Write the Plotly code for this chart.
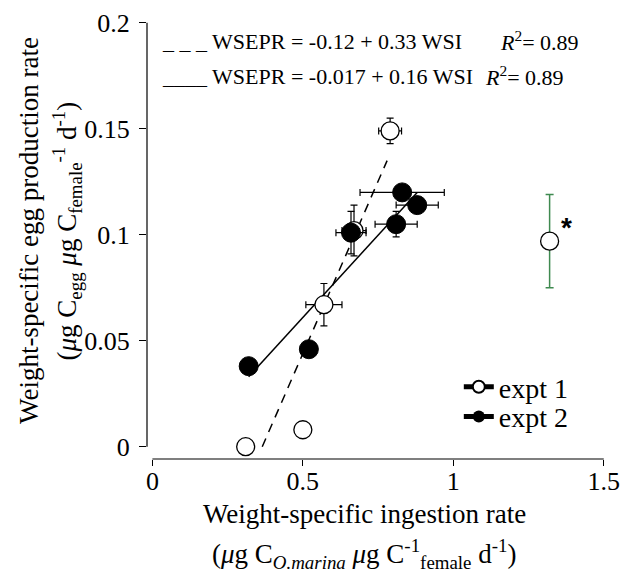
import plotly.graph_objects as go

# ---- data ----
e1_x = [0.31, 0.50, 0.57, 0.67, 0.79]
e1_y = [0.000, 0.008, 0.067, 0.102, 0.149]
e1_xerr = [0.0, 0.0, 0.06, 0.04, 0.038]
e1_yerr = [0.0, 0.0, 0.010, 0.012, 0.006]

e2_x = [0.32, 0.52, 0.66, 0.81, 0.83, 0.88]
e2_y = [0.038, 0.046, 0.101, 0.105, 0.120, 0.114]
e2_xerr = [0.0, 0.0, 0.05, 0.07, 0.14, 0.07]
e2_yerr = [0.0, 0.0, 0.010, 0.006, 0.0, 0.0]

out_x = [1.32]
out_y = [0.097]
out_yerr = [0.022]

dash_x = [0.365, 0.78]
dash_y = [0.0, 0.135]
solid_x = [0.32, 0.88]
solid_y = [0.033, 0.12]

xticks = [0, 0.5, 1, 1.5]
xticklabels = ["0", "0.5", "1", "1.5"]
yticks = [0, 0.05, 0.1, 0.15, 0.2]
yticklabels = ["0", "0.05", "0.1", "0.15", "0.2"]

SERIF = "Liberation Serif"

fig = go.Figure()

fig.add_trace(go.Scatter(x=dash_x, y=dash_y, mode="lines",
                         line=dict(color="black", width=1.5, dash="9px,7px"),
                         showlegend=False, hoverinfo="skip"))
fig.add_trace(go.Scatter(x=solid_x, y=solid_y, mode="lines",
                         line=dict(color="black", width=1.5),
                         showlegend=False, hoverinfo="skip"))

fig.add_trace(go.Scatter(
    x=e1_x, y=e1_y, mode="markers",
    marker=dict(symbol="circle", size=18, color="white", line=dict(color="black", width=1.3)),
    error_x=dict(type="data", array=e1_xerr, color="black", thickness=1.2, width=3.5),
    error_y=dict(type="data", array=e1_yerr, color="black", thickness=1.2, width=3.5),
    showlegend=False))

fig.add_trace(go.Scatter(
    x=out_x, y=out_y, mode="markers",
    marker=dict(symbol="circle", size=18, color="white", line=dict(color="black", width=1.3)),
    error_y=dict(type="data", array=out_yerr, color="#3f8a50", thickness=1.5, width=4),
    showlegend=False))

fig.add_trace(go.Scatter(
    x=e2_x, y=e2_y, mode="markers",
    marker=dict(symbol="circle", size=19, color="black", line=dict(color="black", width=1)),
    error_x=dict(type="data", array=e2_xerr, color="black", thickness=1.2, width=3.5),
    error_y=dict(type="data", array=e2_yerr, color="black", thickness=1.2, width=3.5),
    showlegend=False))

# legend entries (two separately placed legends for tight row spacing)
fig.add_trace(go.Scatter(x=[None], y=[None], mode="lines+markers", name="expt 1", legend="legend",
                         marker=dict(symbol="circle", size=16, color="white",
                                     line=dict(color="black", width=1.3)),
                         line=dict(color="black", width=1)))
fig.add_trace(go.Scatter(x=[None], y=[None], mode="lines+markers", name="expt 2", legend="legend2",
                         marker=dict(symbol="circle", size=16, color="black"),
                         line=dict(color="black", width=1)))

# axis lines (detached, sigmaplot style)
fig.add_shape(type="line", xref="paper", yref="y", x0=0, x1=0, y0=0, y1=0.2,
              line=dict(color="black", width=1.2))
fig.add_shape(type="line", xref="x", yref="paper", x0=0, x1=1.5, y0=0, y1=0,
              line=dict(color="black", width=1.2))

# equations
EQF = dict(family=SERIF, size=22, color="black")
fig.add_annotation(x=0.024, y=0.1912, xref="x", yref="y", xanchor="left", yanchor="middle",
                   text="_ _ _ WSEPR = -0.12 + 0.33 WSI", showarrow=False, font=EQF)
fig.add_annotation(x=1.15, y=0.1912, xref="x", yref="y", xanchor="left", yanchor="middle",
                   text="<i>R</i><sup>2</sup>= 0.89", showarrow=False, font=EQF)
fig.add_annotation(x=0.024, y=0.1748, xref="x", yref="y", xanchor="left", yanchor="middle",
                   text="____ WSEPR = -0.017 + 0.16 WSI", showarrow=False, font=EQF)
fig.add_annotation(x=1.10, y=0.1748, xref="x", yref="y", xanchor="left", yanchor="middle",
                   text="<i>R</i><sup>2</sup>= 0.89", showarrow=False, font=EQF)

# asterisk
fig.add_annotation(x=out_x[0], y=out_y[0], xref="x", yref="y", text="<b>*</b>",
                   showarrow=False, xshift=17, yshift=14,
                   font=dict(family="Liberation Sans", size=28, color="black"))

# axis titles
TF = dict(family=SERIF, size=27, color="black")
fig.add_annotation(x=0.469, y=-0.1247, xref="paper", yref="paper", xanchor="center", yanchor="middle",
                   text="Weight-specific ingestion rate", showarrow=False, font=TF)
fig.add_annotation(x=0.469, y=-0.2138, xref="paper", yref="paper", xanchor="center", yanchor="middle",
                   text="(<i>μ</i>g C<sub><i>O.marina</i></sub> <i>μ</i>g C<sup>-1</sup><sub>female</sub> d<sup>-1</sup>)",
                   showarrow=False, font=TF)
fig.add_annotation(x=-0.254, y=0.514, xref="paper", yref="paper", xanchor="center", yanchor="middle",
                   text="Weight-specific egg production rate", textangle=-90, showarrow=False, font=TF)
fig.add_annotation(x=-0.173, y=0.514, xref="paper", yref="paper", xanchor="center", yanchor="middle",
                   text="(<i>μ</i>g C<sub>egg</sub> <i>μ</i>g C<sub>female</sub><sup>-1</sup> d<sup>-1</sup>)",
                   textangle=-90, showarrow=False, font=TF)

LEGF = dict(family=SERIF, size=28, color="black")
fig.update_layout(
    width=629, height=581,
    margin=dict(l=147, r=9, t=10, b=122),
    paper_bgcolor="white", plot_bgcolor="white",
    font=dict(family=SERIF, size=26, color="black"),
    showlegend=True,
    legend=dict(x=0.672, y=0.162, xanchor="left", yanchor="middle",
                font=LEGF, bgcolor="rgba(0,0,0,0)", itemsizing="constant"),
    legend2=dict(x=0.672, y=0.095, xanchor="left", yanchor="middle",
                 font=LEGF, bgcolor="rgba(0,0,0,0)", itemsizing="constant"),
    xaxis=dict(range=[-0.0179, 1.524], tickmode="array", tickvals=xticks, ticktext=xticklabels,
               ticks="outside", ticklen=6, tickwidth=1.2, tickcolor="black",
               showgrid=False, zeroline=False, showline=False, ticklabelstandoff=-7,
               tickfont=dict(family=SERIF, size=26, color="black")),
    yaxis=dict(range=[-0.0058, 0.2037], tickmode="array", tickvals=yticks, ticktext=yticklabels,
               ticks="outside", ticklen=7, tickwidth=1.2, tickcolor="black",
               showgrid=False, zeroline=False, showline=False, ticklabelstandoff=4,
               tickfont=dict(family=SERIF, size=26, color="black")),
)

fig.write_html("out.html")
